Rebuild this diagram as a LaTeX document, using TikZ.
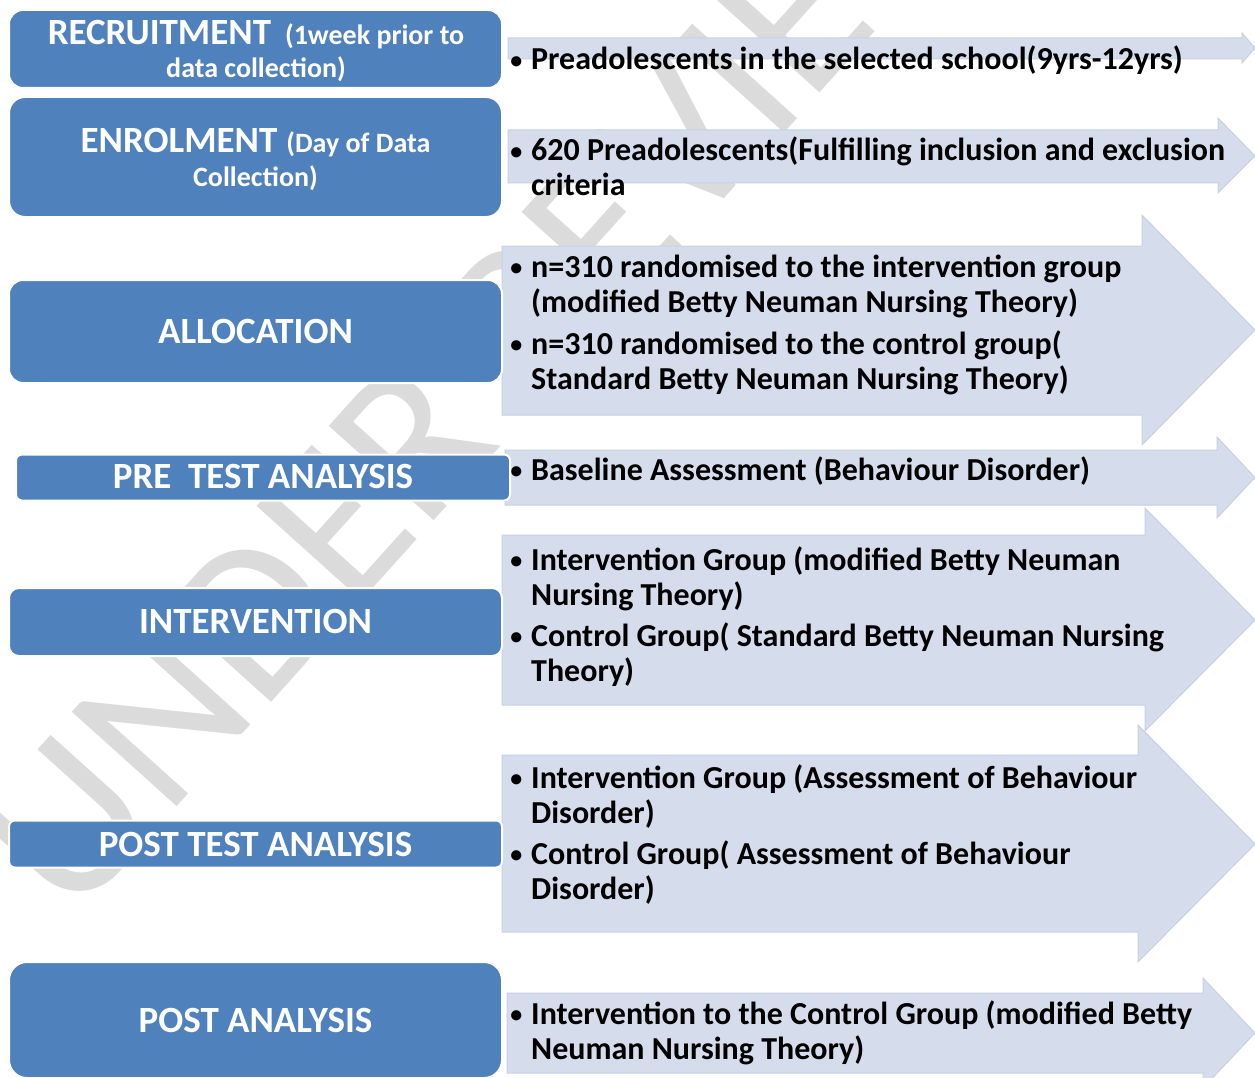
\documentclass[tikz,border=0pt]{standalone}
\usepackage{fontspec}
\setmainfont{Carlito}
\definecolor{boxblue}{RGB}{79,129,189}
\definecolor{arrfill}{RGB}{213,220,235}
\definecolor{arrline}{RGB}{200,208,227}
\definecolor{wmark}{RGB}{219,219,219}
\newcommand{\bitem}[1]{\parbox[t]{700pt}{\fontsize{32}{35}\selectfont\bfseries\raggedright\leavevmode\llap{\raisebox{1.5pt}{\fontsize{24}{24}\selectfont •}\hspace{9pt}}#1}}
\newcommand{\smallpart}[1]{{\fontsize{28}{28}\selectfont #1}}
\tikzset{
  arr/.style={fill=arrfill, draw=arrline, line width=1pt},
  lbox/.style={fill=boxblue, draw=white, line width=2pt, inner sep=0pt},
  ltext/.style={text=white, font=\fontsize{37}{37}\selectfont\bfseries, anchor=base, inner sep=0pt},
  stext/.style={text=white, font=\fontsize{28}{28}\selectfont\bfseries, anchor=base, inner sep=0pt},
  rtext/.style={anchor=base west, inner sep=0pt, text=black},
  wm/.style={text=wmark, font=\fontsize{220}{220}\selectfont, rotate=48, inner sep=0pt}
}
\begin{document}
\begin{tikzpicture}[x=1pt,y=-1pt]
\useasboundingbox (0,0) rectangle (1255,1078);
\clip (0,0) rectangle (1255,1078);
% watermark
\node[wm] (wm) at (490,355) {UNDER REVIEW};
% arrows
\path[arr] (508,38) -- (1242,38) -- (1242,33) -- (1255,48) -- (1242,63) -- (1242,59) -- (508,59) -- cycle;
\path[arr] (508,130) -- (1218,130) -- (1218,118) -- (1255,156) -- (1218,193) -- (1218,183) -- (508,183) -- cycle;
\path[arr] (502,246) -- (1142,246) -- (1142,215) -- (1255,330) -- (1142,445) -- (1142,415) -- (502,415) -- cycle;
\path[arr] (505,450) -- (1217,450) -- (1217,437) -- (1255,477.5) -- (1217,518) -- (1217,505) -- (505,505) -- cycle;
\path[arr] (502,535) -- (1145,535) -- (1145,508) -- (1255,620) -- (1145,731) -- (1145,705) -- (502,705) -- cycle;
\path[arr] (502,755) -- (1138,755) -- (1138,725) -- (1255,844) -- (1138,962) -- (1138,932) -- (502,932) -- cycle;
\path[arr] (507,993) -- (1203,993) -- (1203,978) -- (1255,1033) -- (1203,1088) -- (1203,1073) -- (507,1073) -- cycle;
% right texts
\node[rtext] (t1) at (531,70) {\bitem{Preadolescents in the selected school(9yrs-12yrs)}};
\node[rtext] (t2) at (531,161) {\bitem{620 Preadolescents(Fulfilling inclusion and exclusion\\criteria}};
\node[rtext] (t3a) at (531,277) {\bitem{n=310 randomised to the intervention group\\(modified Betty Neuman Nursing Theory)}};
\node[rtext] (t3b) at (531,354) {\bitem{n=310 randomised to the control group(\\Standard Betty Neuman Nursing Theory)}};
\node[rtext] (t4) at (531,480) {\bitem{Baseline Assessment (Behaviour Disorder)}};
\node[rtext] (t5a) at (531,570) {\bitem{Intervention Group (modified Betty Neuman\\Nursing Theory)}};
\node[rtext] (t5b) at (531,646) {\bitem{Control Group( Standard Betty Neuman Nursing\\Theory)}};
\node[rtext] (t6a) at (531,788) {\bitem{Intervention Group (Assessment of Behaviour\\Disorder)}};
\node[rtext] (t6b) at (531,864) {\bitem{Control Group( Assessment of Behaviour\\Disorder)}};
\node[rtext] (t7) at (531,1024) {\bitem{Intervention to the Control Group (modified Betty\\Neuman Nursing Theory)}};
% left boxes
\node[lbox, rounded corners=14pt, minimum width=493pt, minimum height=78pt] (b1) at (255.5,49) {};
\node[lbox, rounded corners=16pt, minimum width=493pt, minimum height=120pt] (b2) at (255.5,157) {};
\node[lbox, rounded corners=14pt, minimum width=493pt, minimum height=103pt] (b3) at (255.5,331.5) {};
\node[lbox, rounded corners=6pt, minimum width=494pt, minimum height=46pt] (b4) at (263,477.5) {};
\node[lbox, rounded corners=10pt, minimum width=493pt, minimum height=68pt] (b5) at (255.5,622) {};
\node[lbox, rounded corners=6pt, minimum width=493pt, minimum height=47pt] (b6) at (255.5,844) {};
\node[lbox, rounded corners=18pt, minimum width=493pt, minimum height=116pt] (b7) at (255.5,1020) {};
% left labels
\node[ltext] (l1a) at (256,45) {RECRUITMENT\hspace{14pt}\smallpart{(1week prior to}};
\node[stext] (l1b) at (256,78) {data collection)};
\node[ltext] (l2a) at (255.5,153) {ENROLMENT\hspace{9pt}\smallpart{(Day of Data}};
\node[stext] (l2b) at (255.5,186) {Collection)};
\node[ltext] (l3) at (255.5,343) {ALLOCATION};
\node[ltext] (l4) at (263,488) {PRE\ \ TEST ANALYSIS};
\node[ltext] (l5) at (255.5,633) {INTERVENTION};
\node[ltext] (l6) at (255.5,856) {POST TEST ANALYSIS};
\node[ltext] (l7) at (255.5,1032) {POST ANALYSIS};
\end{tikzpicture}
\end{document}
